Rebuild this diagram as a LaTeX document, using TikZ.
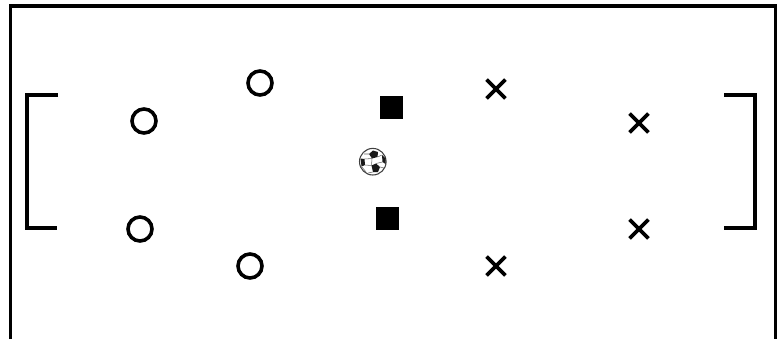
\documentclass[tikz,border=0pt]{standalone}
\usetikzlibrary{shapes.misc}
\tikzset{
  px/.style={x=0.75pt,y=-0.75pt},
  wall/.style={draw=black,line width=2.7pt,line cap=butt,line join=miter},
  ring/.style={circle,draw=black,line width=2.7pt,minimum size=18pt,inner sep=0pt},
  blocker/.style={rectangle,fill=black,minimum size=17.25pt,inner sep=0pt},
  crossmark/.style={cross out,draw=black,line width=2.7pt,minimum size=11.5pt,inner sep=0pt},
}
\begin{document}
\begin{tikzpicture}[px]
\useasboundingbox (0,0) rectangle (780,339);
\draw[wall] (10.5,339) -- (10.5,5.8) -- (775.6,5.8) -- (775.6,339);
\draw[wall] (58,95) -- (27,95) -- (27,228) -- (57,228);
\draw[wall] (724,95) -- (755,95) -- (755,228) -- (724,228);
\node[ring] (o1) at (144,121) {};
\node[ring] (o2) at (260,83) {};
\node[ring] (o3) at (140,229) {};
\node[ring] (o4) at (250,266) {};
\node[blocker] (s1) at (391.5,107) {};
\node[blocker] (s2) at (387.5,218) {};
\node[crossmark] (x1) at (496,89) {};
\node[crossmark] (x2) at (639,123) {};
\node[crossmark] (x3) at (639,229) {};
\node[crossmark] (x4) at (496,266) {};
% ball
\draw[black!75,line width=0.8pt,fill=white] (372.8,161.7) circle (13.3);
\fill[black!90] (369,154) -- (373,150.5) -- (378,152) -- (377.5,157) -- (372,158.5) -- cycle;
\fill[black!90] (360.5,158.5) -- (364.5,159) -- (365,165) -- (361.5,166.5) -- cycle;
\fill[black!90] (371.5,165.5) -- (376,163.5) -- (380,167) -- (378,172) -- (373,172) -- cycle;
\fill[black!90] (382,155) -- (385.5,158.5) -- (385.5,164) -- (382.5,162) -- cycle;
\draw[black!60,line width=0.4pt] (372,158.5) -- (364.5,159) (377.5,157) -- (382,155) (376,163.5) -- (382.5,162) (372,158.5) -- (371.5,165.5) (365,165) -- (371.5,165.5) (369,154) -- (364,154) (361.5,166.5) -- (366,172) (373,172) -- (368,173) (380,167) -- (384,168);
\end{tikzpicture}
\end{document}
